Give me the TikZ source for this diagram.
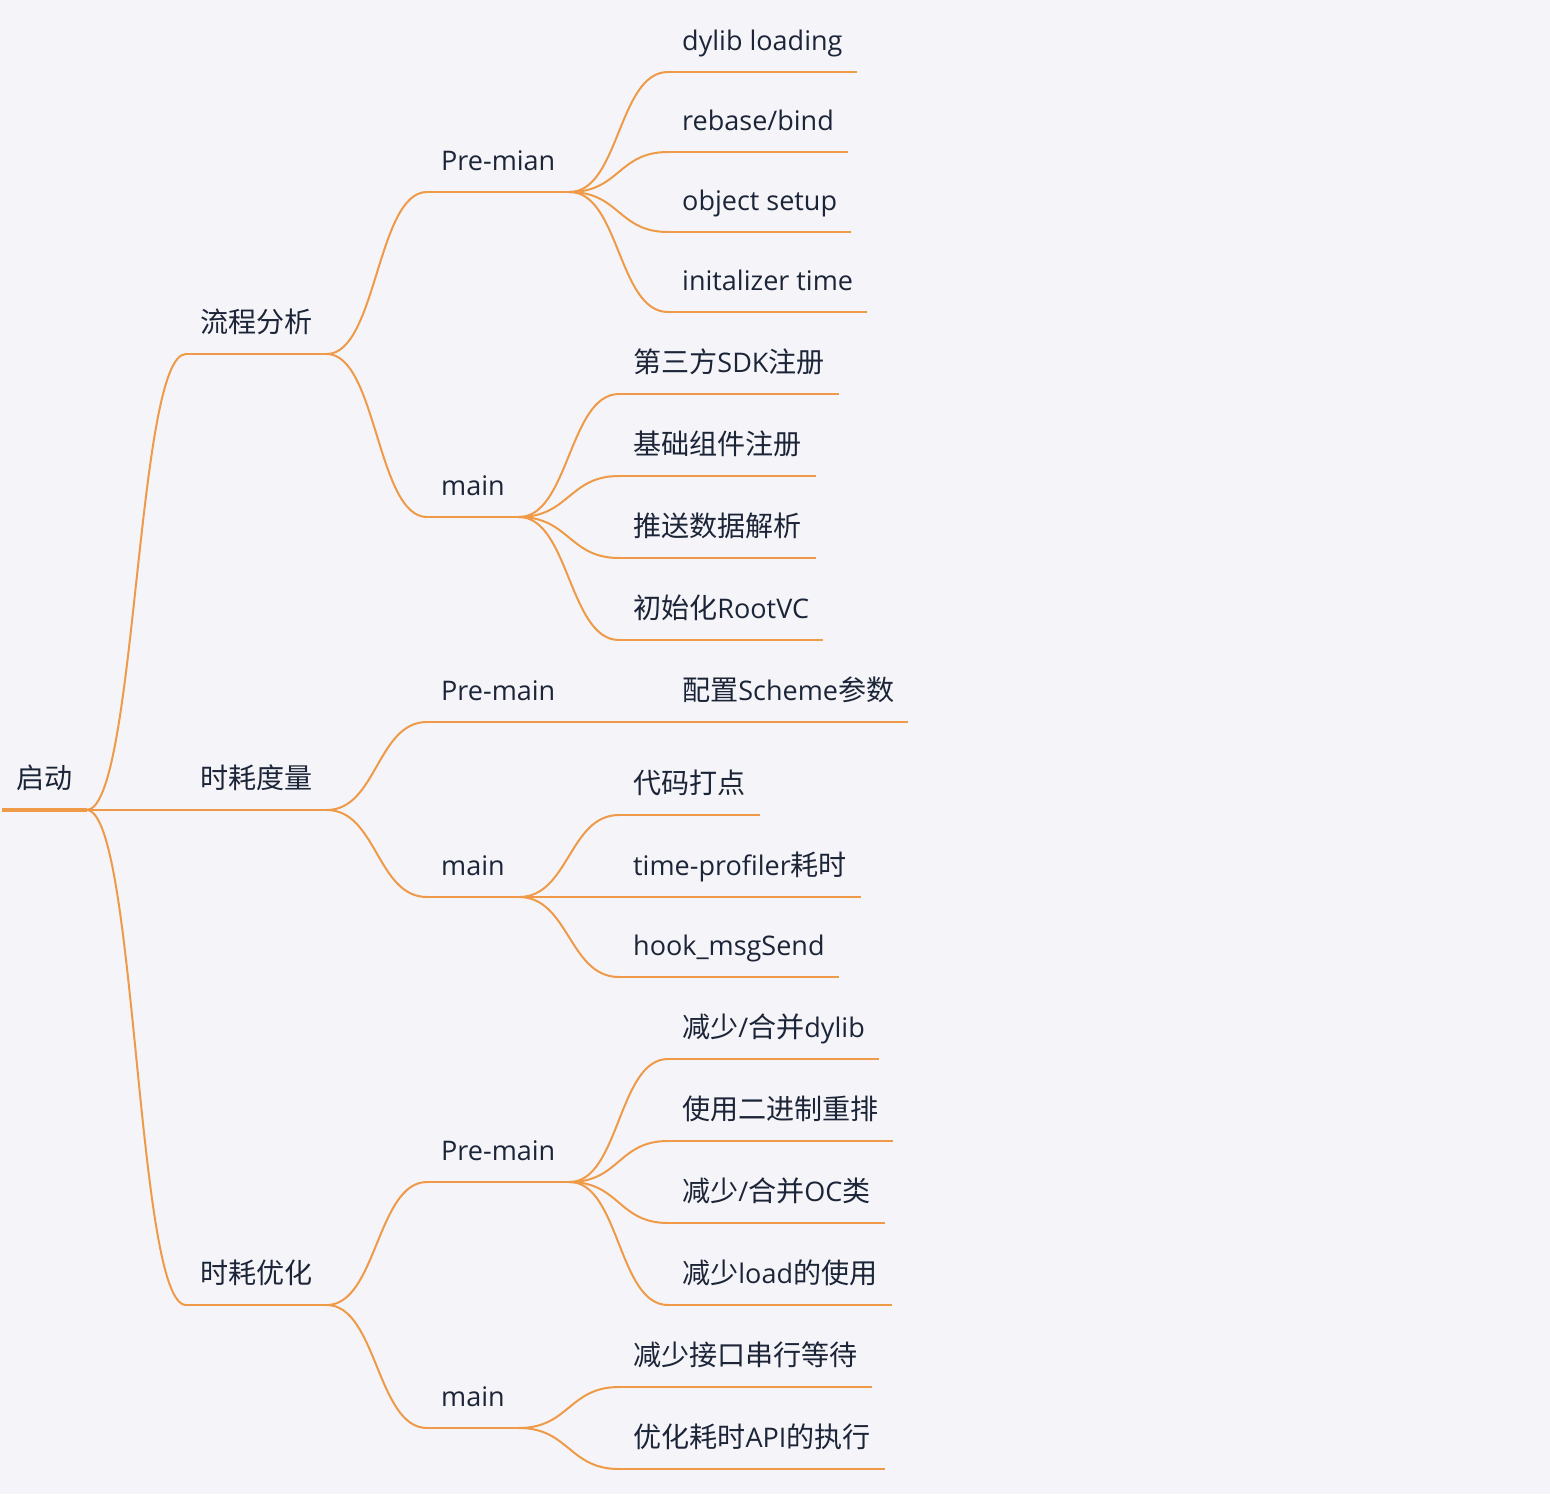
\documentclass[tikz,border=0pt]{standalone}
\usepackage{fontspec}
\setmainfont{Open Sans}
\newfontfamily\zh[Scale=1.04]{Noto Sans CJK SC}
\usepackage{tikz}
\definecolor{paper}{HTML}{F5F5F9}
\definecolor{branchcol}{HTML}{EE9A48}
\definecolor{ink}{HTML}{1C2538}
\tikzset{
  uline/.style={draw=branchcol, line width=2pt},
  topic/.style={anchor=south west, inner xsep=14pt, inner ysep=0pt,
    text height=22pt, text depth=21pt, text=ink, font=\fontsize{27}{32}\selectfont,
    append after command={(\tikzlastnode.south west) edge[uline] (\tikzlastnode.south east)}},
  branch/.style={draw=branchcol, line width=2pt,
    to path={.. controls +(50pt,0) and +(-50pt,0) .. (\tikztotarget)}}
}

\begin{document}
\begin{tikzpicture}[x=1pt,y=-1pt]
\fill[paper] (0,0) rectangle (1550,1494);

\node[topic, append after command={(\tikzlastnode.south west) edge[uline, line width=3.5pt] (\tikzlastnode.south east)}] (root) at (2,810) {\zh 启动};

\node[topic] (flow) at (186,354) {\zh 流程分析};
\node[topic] (measure) at (186,810) {\zh 时耗度量};
\node[topic] (optim) at (186,1305) {\zh 时耗优化};

\node[topic] (flowpre) at (427,192) {Pre-mian};
\node[topic] (flowmain) at (427,517) {main};
\node[topic] (measpre) at (427,722) {Pre-main};
\node[topic] (measmain) at (427,897) {main};
\node[topic] (optpre) at (427,1182) {Pre-main};
\node[topic] (optmain) at (427,1428) {main};

\node[topic] (dyld) at (668,72) {dylib loading};
\node[topic] (rebase) at (668,152) {rebase/bind};
\node[topic] (objc) at (668,232) {object setup};
\node[topic] (initz) at (668,312) {initalizer time};

\node[topic] (sdk) at (619,394) {{\zh 第三方}SDK{\zh 注册}};
\node[topic] (comp) at (619,476) {\zh 基础组件注册};
\node[topic] (push) at (619,558) {\zh 推送数据解析};
\node[topic] (rootvc) at (619,640) {{\zh 初始化}RootVC};

\node[topic] (scheme) at (668,722) {{\zh 配置}Scheme{\zh 参数}};

\node[topic] (codelog) at (619,815) {\zh 代码打点};
\node[topic] (profiler) at (619,897) {time-profiler{\zh 耗时}};
\node[topic] (hook) at (619,977) {hook\_msgSend};

\node[topic] (dylib) at (668,1059) {{\zh 减少}/{\zh 合并}dylib};
\node[topic] (order) at (668,1141) {\zh 使用二进制重排};
\node[topic] (occls) at (668,1223) {{\zh 减少}/{\zh 合并}OC{\zh 类}};
\node[topic] (load) at (668,1305) {{\zh 减少}load{\zh 的使用}};

\node[topic] (serial) at (619,1387) {\zh 减少接口串行等待};
\node[topic] (api) at (619,1469) {{\zh 优化耗时}API{\zh 的执行}};

\draw[branch] (root.south east) edge (flow.south west) edge (measure.south west) edge (optim.south west);
\draw[branch] (flow.south east) edge (flowpre.south west) edge (flowmain.south west);
\draw[branch] (measure.south east) edge (measpre.south west) edge (measmain.south west);
\draw[branch] (optim.south east) edge (optpre.south west) edge (optmain.south west);
\draw[branch] (flowpre.south east) edge (dyld.south west) edge (rebase.south west) edge (objc.south west) edge (initz.south west);
\draw[branch] (flowmain.south east) edge (sdk.south west) edge (comp.south west) edge (push.south west) edge (rootvc.south west);
\draw[branch] (measpre.south east) edge (scheme.south west);
\draw[branch] (measmain.south east) edge (codelog.south west) edge (profiler.south west) edge (hook.south west);
\draw[branch] (optpre.south east) edge (dylib.south west) edge (order.south west) edge (occls.south west) edge (load.south west);
\draw[branch] (optmain.south east) edge (serial.south west) edge (api.south west);
\end{tikzpicture}
\end{document}
